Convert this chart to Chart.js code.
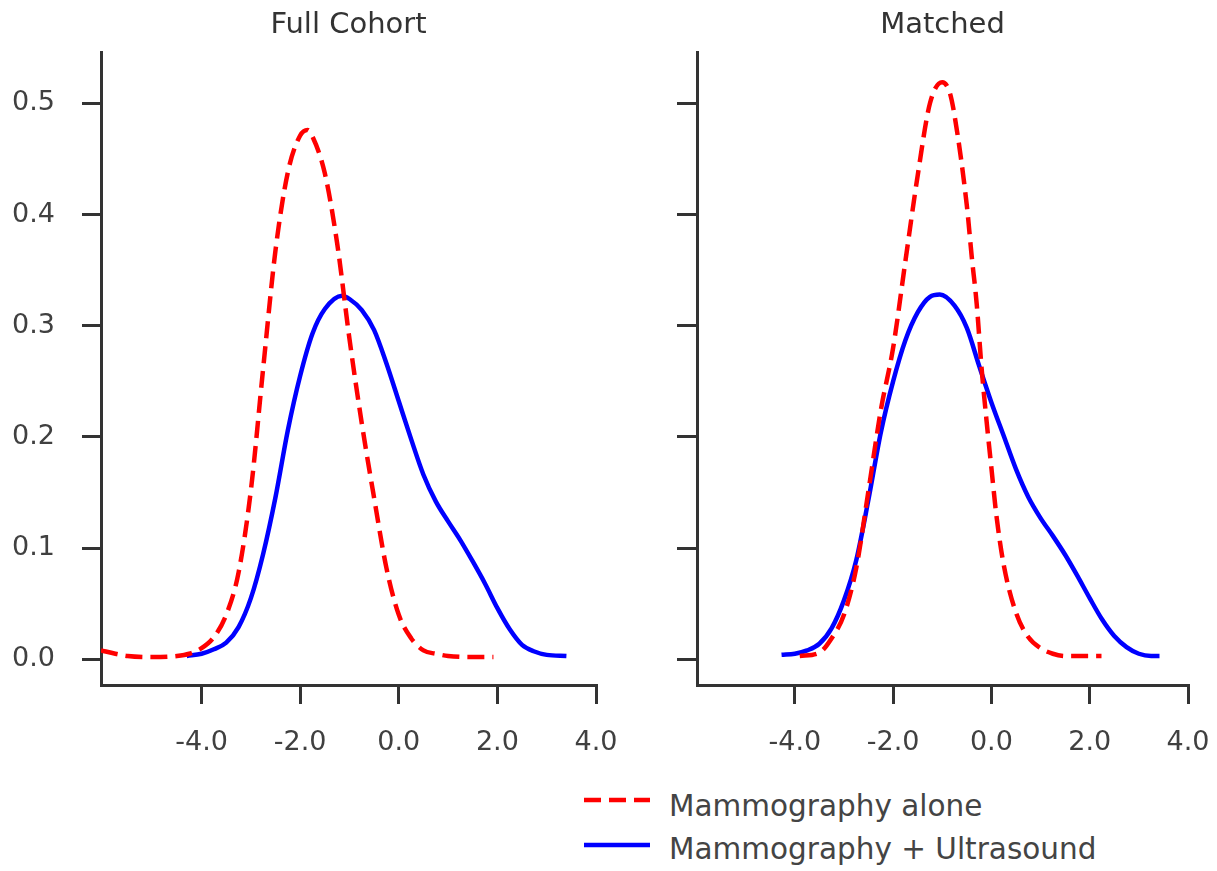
<!DOCTYPE html>
<html>
<head>
<meta charset="utf-8">
<title>Density plots</title>
<script src="https://cdn.jsdelivr.net/npm/chart.js@4.4.1/dist/chart.umd.min.js"></script>
<style>
  body { margin: 0; background: #fff; width: 1217px; height: 871px; position: relative; overflow: hidden; font-family: "DejaVu Sans", sans-serif; }
  .panel { position: absolute; top: 0; height: 780px; }
  #fullWrap { left: 0; width: 641px; }
  #matchedWrap { left: 620px; width: 613px; }
  .key { position: absolute; left: 584px; }
  .key canvas { position: absolute; left: 0; }
  .key span { position: absolute; left: 85px; top: 0; white-space: nowrap; font-size: 29.5px; line-height: 30px; color: #444; }
</style>
</head>
<body>
<div class="panel" id="fullWrap"><canvas id="fullChart"></canvas></div>
<div class="panel" id="matchedWrap"><canvas id="matchedChart"></canvas></div>
<div class="key" id="key1" style="top:791px"></div>
<div class="key" id="key2" style="top:834px"></div>

<script>
// panel titles, series names, axis ticks
const panelTitles = ['Full Cohort', 'Matched'];
const seriesNames = ['Mammography alone', 'Mammography + Ultrasound'];
const xTicks = [-4, -2, 0, 2, 4];
const yTicks = [0, 0.1, 0.2, 0.3, 0.4, 0.5];

// Full Cohort densities
const fullAloneX = [-6.04, -5.75, -5.5, -5.0, -4.5, -4.25, -4.0, -3.75, -3.5, -3.25, -3.0, -2.75, -2.5, -2.25, -2.0, -1.85, -1.75, -1.5, -1.25, -1.0, -0.75, -0.5, -0.25, 0, 0.25, 0.5, 0.75, 1.0, 1.5, 1.92];
const fullAloneY = [0.008, 0.005, 0.003, 0.002, 0.003, 0.005, 0.010, 0.020, 0.040, 0.078, 0.152, 0.262, 0.368, 0.438, 0.471, 0.476, 0.470, 0.437, 0.374, 0.288, 0.212, 0.145, 0.082, 0.040, 0.019, 0.008, 0.005, 0.003, 0.002, 0.002];
const fullComboX = [-4.3, -4.0, -3.75, -3.5, -3.25, -3.0, -2.75, -2.5, -2.25, -2.0, -1.75, -1.5, -1.15, -1.0, -0.75, -0.5, -0.25, 0, 0.25, 0.5, 0.75, 1.0, 1.25, 1.5, 1.75, 2.0, 2.25, 2.5, 2.75, 3.0, 3.4];
const fullComboY = [0.003, 0.005, 0.009, 0.015, 0.029, 0.055, 0.095, 0.146, 0.206, 0.255, 0.293, 0.315, 0.327, 0.324, 0.314, 0.296, 0.266, 0.232, 0.198, 0.166, 0.142, 0.124, 0.107, 0.088, 0.068, 0.046, 0.027, 0.013, 0.007, 0.004, 0.003];

// Matched densities
const matchedAloneX = [-3.9, -3.5, -3.25, -3.0, -2.75, -2.5, -2.25, -2.0, -1.75, -1.5, -1.25, -1.0, -0.85, -0.75, -0.5, -0.4, -0.3, -0.2, -0.1, 0, 0.1, 0.25, 0.5, 0.75, 1.0, 1.25, 1.5, 2.0, 2.24];
const matchedAloneY = [0.003, 0.006, 0.019, 0.040, 0.082, 0.152, 0.224, 0.280, 0.358, 0.435, 0.500, 0.519, 0.510, 0.489, 0.408, 0.362, 0.320, 0.262, 0.215, 0.172, 0.130, 0.085, 0.042, 0.020, 0.010, 0.005, 0.003, 0.003, 0.003];
const matchedComboX = [-4.27, -4.0, -3.75, -3.5, -3.25, -3.0, -2.75, -2.5, -2.25, -2.0, -1.75, -1.5, -1.25, -1.05, -0.75, -0.5, -0.25, 0, 0.25, 0.5, 0.75, 1.0, 1.25, 1.5, 1.75, 2.0, 2.25, 2.5, 2.75, 3.0, 3.25, 3.42];
const matchedComboY = [0.004, 0.005, 0.008, 0.014, 0.028, 0.053, 0.089, 0.144, 0.204, 0.250, 0.287, 0.312, 0.326, 0.328, 0.318, 0.298, 0.264, 0.231, 0.201, 0.171, 0.146, 0.127, 0.111, 0.094, 0.075, 0.055, 0.036, 0.021, 0.011, 0.005, 0.003, 0.003];

const FONT = 'DejaVu Sans';
const AXIS = '#333';
const lineStyles = [
  { color: '#ff0000', width: 4.5, dash: [17, 8] },
  { color: '#0000ff', width: 4.5, dash: [] }
];

const pairs = (xs, ys) => xs.map((x, i) => ({ x: x, y: ys[i] }));

const makeDataset = (idx, xs, ys) => ({
  label: seriesNames[idx],
  data: pairs(xs, ys),
  borderColor: lineStyles[idx].color,
  borderWidth: lineStyles[idx].width,
  borderDash: lineStyles[idx].dash,
  pointRadius: 0,
  fill: false,
  cubicInterpolationMode: 'monotone'
});

// ticks.padding is also counted in the right-hand label room, hence padRight 45
const makePanel = (canvasId, title, datasets, p) => {
  new Chart(document.getElementById(canvasId), {
    type: 'line',
    data: { datasets: datasets },
    options: {
      responsive: true,
      maintainAspectRatio: false,
      animation: false,
      layout: { padding: { left: 0, right: 45, top: 0, bottom: 0 } },
      plugins: {
        legend: { display: false },
        tooltip: { enabled: false },
        title: {
          display: true,
          text: title,
          fullSize: false,
          color: '#333',
          font: { family: FONT, size: 29, weight: 'normal' },
          padding: { top: 8, bottom: 10 }
        }
      },
      scales: {
        x: {
          type: 'linear',
          min: p.xMin,
          max: 4,
          afterBuildTicks: (axis) => { axis.ticks = xTicks.map(v => ({ value: v })); },
          afterFit: (axis) => { axis.height = 95; },
          grid: { drawOnChartArea: false, drawTicks: true, tickLength: 19, color: AXIS, lineWidth: 3 },
          border: { display: true, color: AXIS, width: 3 },
          ticks: {
            color: '#404040',
            padding: 23,
            maxRotation: 0,
            font: { family: FONT, size: 27 },
            callback: (v) => Number(v).toFixed(1)
          }
        },
        y: {
          min: -0.0231,
          max: 0.5454,
          afterBuildTicks: (axis) => { axis.ticks = yTicks.map(v => ({ value: v })); },
          afterFit: (axis) => { axis.width = p.yWidth; },
          grid: { drawOnChartArea: false, drawTicks: true, tickLength: p.tickLen, color: AXIS, lineWidth: 3 },
          border: { display: true, color: AXIS, width: 3 },
          ticks: {
            display: p.showY,
            color: '#404040',
            padding: 27,
            font: { family: FONT, size: 27 },
            callback: (v) => Number(v).toFixed(1)
          }
        }
      }
    }
  });
};

makePanel('fullChart', panelTitles[0], [
  makeDataset(0, fullAloneX, fullAloneY),
  makeDataset(1, fullComboX, fullComboY)
], { xMin: -6.04, yWidth: 101, tickLen: 19, showY: true });

makePanel('matchedChart', panelTitles[1], [
  makeDataset(0, matchedAloneX, matchedAloneY),
  makeDataset(1, matchedComboX, matchedComboY)
], { xMin: -5.99, yWidth: 77, tickLen: 20, showY: false });

// legend below the panels
const drawKey = (holderId, idx, lineY) => {
  const holder = document.getElementById(holderId);
  const c = document.createElement('canvas');
  c.width = 66; c.height = 20;
  c.style.top = (lineY - 10) + 'px';
  const ctx = c.getContext('2d');
  ctx.strokeStyle = lineStyles[idx].color;
  ctx.lineWidth = lineStyles[idx].width;
  ctx.setLineDash(lineStyles[idx].dash);
  ctx.beginPath();
  ctx.moveTo(0, 10);
  ctx.lineTo(66, 10);
  ctx.stroke();
  holder.appendChild(c);
  const s = document.createElement('span');
  s.textContent = seriesNames[idx];
  holder.appendChild(s);
};
drawKey('key1', 0, 9);
drawKey('key2', 1, 11);
</script>
</body>
</html>
